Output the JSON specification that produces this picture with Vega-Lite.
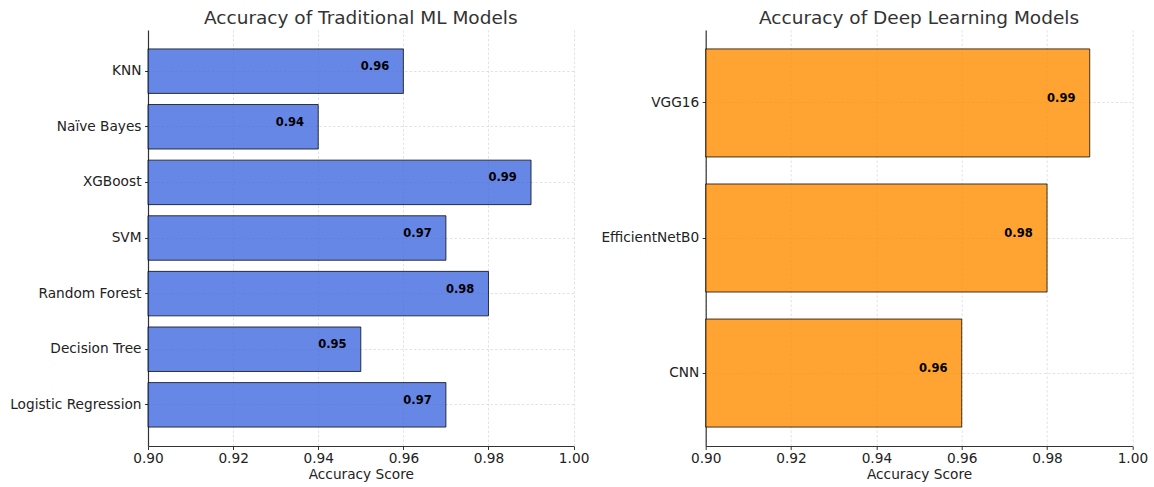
{
  "$schema": "https://vega.github.io/schema/vega-lite/v6.json",
  "padding": {"left": 9, "top": 8, "right": 5, "bottom": 5},
  "background": "white",
  "bounds": "flush",
  "spacing": 131.7,
  "config": {
    "font": "DejaVu Sans",
    "view": {"stroke": null},
    "title": {"fontSize": 18.5, "fontWeight": "normal", "color": "#333333", "anchor": "middle", "offset": 3},
    "axis": {
      "labelFont": "DejaVu Sans",
      "labelFontSize": 13.7,
      "labelColor": "#222222",
      "titleFont": "DejaVu Sans",
      "titleFontSize": 13.7,
      "titleFontWeight": "normal",
      "titleColor": "#222222",
      "domainColor": "#333333",
      "domainWidth": 1.2,
      "tickColor": "#333333",
      "tickSize": 3.5,
      "tickWidth": 1,
      "labelPadding": 3.5,
      "labelFlush": false,
      "grid": true,
      "gridColor": "#dadada",
      "gridDash": [2.5, 2],
      "gridWidth": 0.8
    }
  },
  "hconcat": [
    {
      "width": 425.6,
      "height": 416,
      "title": "Accuracy of Traditional ML Models",
      "data": {"values": [
        {"model": "KNN", "accuracy": 0.96},
        {"model": "Naïve Bayes", "accuracy": 0.94},
        {"model": "XGBoost", "accuracy": 0.99},
        {"model": "SVM", "accuracy": 0.97},
        {"model": "Random Forest", "accuracy": 0.98},
        {"model": "Decision Tree", "accuracy": 0.95},
        {"model": "Logistic Regression", "accuracy": 0.97}
      ]},
      "encoding": {
        "y": {
          "field": "model", "type": "nominal",
          "sort": ["KNN", "Naïve Bayes", "XGBoost", "SVM", "Random Forest", "Decision Tree", "Logistic Regression"],
          "scale": {"paddingInner": 0.2, "paddingOuter": 0.34},
          "axis": {"title": null, "bandPosition": 0.5}
        },
        "x": {
          "field": "accuracy", "type": "quantitative",
          "scale": {"domain": [0.9, 1.0], "nice": false, "zero": false},
          "axis": {"title": "Accuracy Score", "values": [0.9, 0.92, 0.94, 0.96, 0.98, 1.0], "format": ".2f", "labelPadding": 1.5, "titlePadding": 3}
        }
      },
      "layer": [
        {
          "mark": {"type": "bar", "fill": "royalblue", "fillOpacity": 0.8, "stroke": "black", "strokeOpacity": 0.75, "strokeWidth": 1},
          "encoding": {"x2": {"datum": 0.9}}
        },
        {
          "mark": {"type": "text", "align": "left", "baseline": "middle", "dx": -42.6, "dy": -4, "fontWeight": "bold", "fontSize": 11.5, "color": "black"},
          "encoding": {"text": {"field": "accuracy", "type": "quantitative", "format": ".2f"}}
        }
      ]
    },
    {
      "width": 426.7,
      "height": 416,
      "title": "Accuracy of Deep Learning Models",
      "data": {"values": [
        {"model": "VGG16", "accuracy": 0.99},
        {"model": "EfficientNetB0", "accuracy": 0.98},
        {"model": "CNN", "accuracy": 0.96}
      ]},
      "encoding": {
        "y": {
          "field": "model", "type": "nominal",
          "sort": ["VGG16", "EfficientNetB0", "CNN"],
          "scale": {"paddingInner": 0.2, "paddingOuter": 0.14},
          "axis": {"title": null, "bandPosition": 0.5}
        },
        "x": {
          "field": "accuracy", "type": "quantitative",
          "scale": {"domain": [0.9, 1.0], "nice": false, "zero": false},
          "axis": {"title": "Accuracy Score", "values": [0.9, 0.92, 0.94, 0.96, 0.98, 1.0], "format": ".2f", "labelPadding": 1.5, "titlePadding": 3}
        }
      },
      "layer": [
        {
          "mark": {"type": "bar", "fill": "darkorange", "fillOpacity": 0.8, "stroke": "black", "strokeOpacity": 0.75, "strokeWidth": 1},
          "encoding": {"x2": {"datum": 0.9}}
        },
        {
          "mark": {"type": "text", "align": "left", "baseline": "middle", "dx": -42.7, "dy": -4, "fontWeight": "bold", "fontSize": 11.5, "color": "black"},
          "encoding": {"text": {"field": "accuracy", "type": "quantitative", "format": ".2f"}}
        }
      ]
    }
  ]
}
